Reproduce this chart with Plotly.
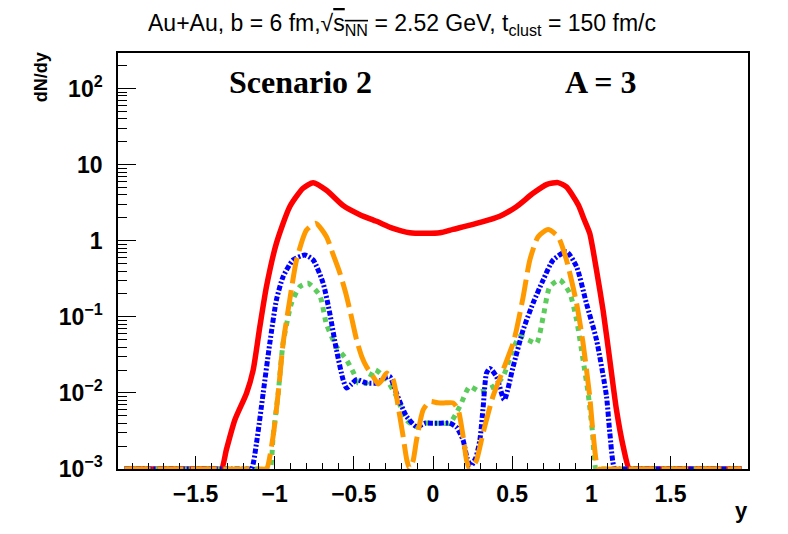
import plotly.graph_objects as go

# rapidity distributions dN/dy, A = 3
# (zero bins are drawn on the 1e-3 floor like ROOT does)
red_x = [-1.95, -1.37, -1.336, -1.305, -1.252, -1.178, -1.136, -1.094, -1.052, -0.989, -0.905,
         -0.821, -0.757, -0.673, -0.568, -0.462, -0.357, -0.252, -0.147, -0.041, 0.043, 0.127,
         0.253, 0.422, 0.527, 0.632, 0.72, 0.79, 0.843, 0.88, 0.92, 0.955, 0.99, 1.033, 1.075,
         1.117, 1.159, 1.201, 1.24, 1.27, 1.95]
red_y = [0.001, 0.001, 0.001, 0.0018, 0.0044, 0.0099, 0.020, 0.074, 0.25, 0.93, 2.8,
         4.9, 5.8, 4.6, 2.9, 2.2, 1.8, 1.45, 1.27, 1.25, 1.27, 1.41,
         1.64, 2.1, 2.8, 4.2, 5.5, 5.8, 5.1, 4.0, 2.9, 1.9, 1.25, 0.41, 0.12,
         0.027, 0.006, 0.002, 0.001, 0.001, 0.001]

orange_x = [-1.95, -1.08, -1.052, -1.010, -0.978, -0.947, -0.905, -0.862, -0.799, -0.740, -0.673,
            -0.63, -0.589, -0.55, -0.52, -0.483, -0.45, -0.42, -0.378, -0.347, -0.32, -0.294,
            -0.252, -0.22, -0.189, -0.165, -0.147, -0.125, -0.104, -0.062, -0.020, 0.03, 0.08,
            0.127, 0.159, 0.19, 0.212, 0.232, 0.255, 0.275, 0.317, 0.379, 0.443, 0.506, 0.527,
            0.569, 0.612, 0.664, 0.727, 0.79, 0.843, 0.907, 0.948, 0.99, 1.011, 1.043, 1.07, 1.95]
orange_y = [0.001, 0.001, 0.001, 0.0027, 0.0099, 0.045, 0.167, 0.56, 1.38, 1.69, 1.13,
            0.65, 0.38, 0.2, 0.11, 0.05, 0.03, 0.022, 0.0164, 0.0131, 0.015, 0.0182,
            0.0149, 0.0066, 0.0027, 0.0013, 0.001, 0.0013, 0.0024, 0.006, 0.0077, 0.0074, 0.0074,
            0.0074, 0.006, 0.0027, 0.0013, 0.001, 0.0011, 0.0013, 0.003, 0.009, 0.02, 0.045, 0.067,
            0.18, 0.56, 1.13, 1.4, 1.13, 0.56, 0.15, 0.045, 0.009, 0.003, 0.001, 0.001, 0.001]

blue_x = [-1.95, -1.18, -1.147, -1.115, -1.073, -1.031, -0.989, -0.947, -0.884, -0.81, -0.757,
          -0.694, -0.652, -0.61, -0.568, -0.546, -0.515, -0.483, -0.42, -0.357, -0.30, -0.273,
          -0.231, -0.167, -0.104, -0.05, 0.0, 0.05, 0.106, 0.15, 0.19, 0.215, 0.24, 0.27, 0.296,
          0.317, 0.338, 0.359, 0.401, 0.45, 0.506, 0.569, 0.632, 0.696, 0.759, 0.843, 0.907,
          0.969, 1.033, 1.096, 1.117, 1.148, 1.18, 1.95]
blue_y = [0.001, 0.001, 0.001, 0.0022, 0.0099, 0.045, 0.167, 0.337, 0.558, 0.649, 0.558,
          0.276, 0.111, 0.0368, 0.0149, 0.0116, 0.013, 0.0149, 0.0135, 0.0135, 0.016, 0.0164,
          0.0099, 0.0049, 0.0036, 0.004, 0.004, 0.004, 0.004, 0.0035, 0.0024, 0.0014, 0.0011, 0.0014, 0.0024,
          0.0066, 0.0182, 0.021, 0.0164, 0.0081, 0.022, 0.067, 0.151, 0.305, 0.558, 0.718, 0.456,
          0.151, 0.0497, 0.009, 0.003, 0.001, 0.001, 0.001]

green_x = [-1.95, -1.06, -1.03, -1.010, -0.978, -0.947, -0.894, -0.841, -0.789, -0.715, -0.673,
           -0.61, -0.546, -0.50, -0.473, -0.42, -0.368, -0.294, -0.231, -0.167, -0.104, -0.05,
           0.0, 0.05, 0.106, 0.169, 0.232, 0.296, 0.38, 0.443, 0.496, 0.548, 0.601, 0.654,
           0.696, 0.738, 0.801, 0.864, 0.907, 0.948, 0.98, 1.008, 1.03, 1.06, 1.95]
green_y = [0.001, 0.001, 0.001, 0.0027, 0.0099, 0.045, 0.151, 0.249, 0.276, 0.19, 0.08,
           0.0407, 0.0272, 0.018, 0.0135, 0.0135, 0.0201, 0.0149, 0.009, 0.0044, 0.0036, 0.004,
           0.004, 0.004, 0.004, 0.0066, 0.0121, 0.0104, 0.0121, 0.0164, 0.0333, 0.055, 0.0497, 0.045,
           0.1, 0.249, 0.305, 0.204, 0.091, 0.0272, 0.0099, 0.003, 0.001, 0.001, 0.001]

x_ticks = [-1.5, -1, -0.5, 0, 0.5, 1, 1.5]
x_ticktext = ["\u22121.5", "\u22121", "\u22120.5", "0", "0.5", "1", "1.5"]
y_ticks = [1e-3, 1e-2, 1e-1, 1, 10, 100]
y_ticktext = ["10<sup>\u22123</sup>", "10<sup>\u22122</sup>", "10<sup>\u22121</sup>", "1", "10", "10<sup>2</sup>"]

series = [
    (red_x, red_y, "#ff0000", "solid", 5.5),
    (green_x, green_y, "#5ccc5c", "5px,5px", 5),
    (blue_x, blue_y, "#0000ff", "5px,2px,2px,2px", 5),
    (orange_x, orange_y, "#ff9900", "26px,7px", 5),
]

fig = go.Figure()
for xs, ys, col, dash, w in series:
    fig.add_trace(go.Scatter(x=xs, y=ys, mode="lines", cliponaxis=False,
                             line=dict(color=col, dash=dash, width=w, shape="spline", smoothing=0.6),
                             showlegend=False))

minor_y = [m * 10 ** k for k in range(-3, 3) for m in range(2, 10) if m * 10 ** k < 290]

fig.update_xaxes(range=[-1.99, 1.99], showline=True, mirror=True, linecolor="black", linewidth=1.5,
                 showgrid=False, zeroline=False, ticks="inside", ticklen=13, tickcolor="black",
                 tickvals=x_ticks, ticktext=x_ticktext, ticklabelstandoff=4,
                 tickfont=dict(family="Liberation Sans", size=23, color="black", weight="bold"),
                 minor=dict(ticks="inside", ticklen=6, dtick=0.1, tick0=0, tickcolor="black", showgrid=False))
fig.update_yaxes(type="log", range=[-3, 2.467], showline=True, mirror=True, linecolor="black", linewidth=1.5,
                 showgrid=False, zeroline=False, ticks="inside", ticklen=18, tickcolor="black",
                 tickvals=y_ticks, ticktext=y_ticktext, ticklabelstandoff=9,
                 tickfont=dict(family="Liberation Sans", size=23, color="black", weight="bold"),
                 minor=dict(ticks="inside", ticklen=9, tickvals=minor_y, tickcolor="black", showgrid=False))

fig.add_annotation(text="Scenario 2", x=0.289, y=0.93, xref="paper", yref="paper", showarrow=False,
                   xanchor="center", yanchor="middle",
                   font=dict(family="Liberation Serif", size=32, color="black", weight="bold"))
fig.add_annotation(text="A = 3", x=0.767, y=0.93, xref="paper", yref="paper", showarrow=False,
                   xanchor="center", yanchor="middle",
                   font=dict(family="Liberation Serif", size=32, color="black", weight="bold"))
fig.add_annotation(text="dN/dy", x=-0.122, y=0.942, xref="paper", yref="paper", showarrow=False,
                   xanchor="center", yanchor="middle", textangle=-90,
                   font=dict(family="Liberation Sans", size=18, color="black", weight="bold"))
fig.add_annotation(text="y", x=0.989, y=-0.1, xref="paper", yref="paper", showarrow=False,
                   xanchor="center", yanchor="middle",
                   font=dict(family="Liberation Sans", size=22, color="black", weight="bold"))

fig.update_layout(
    width=788, height=534,
    margin=dict(l=110, r=48, t=45, b=73),
    paper_bgcolor="white", plot_bgcolor="white",
    title=dict(text="Au+Au, b = 6 fm,\u221a<span style=\"text-decoration:overline\">s<sub>NN</sub></span> = 2.52 GeV, t<sub>clust</sub> = 150 fm/c",
               x=0.5, xanchor="center", y=0.972, yanchor="middle",
               font=dict(family="Liberation Sans", size=23, color="black")),
)

fig.write_html("out.html")
